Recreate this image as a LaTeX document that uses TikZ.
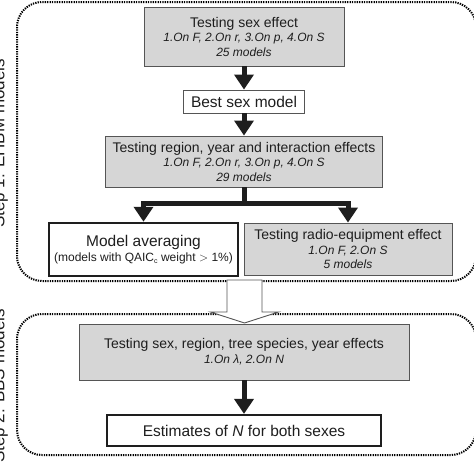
\documentclass[tikz,border=0pt]{standalone}
\usepackage{fontspec}
\setmainfont{Liberation Sans}
\usetikzlibrary{arrows.meta,calc}
\definecolor{boxgray}{HTML}{D6D6D6}
\definecolor{edgegray}{HTML}{555555}
\definecolor{ink}{HTML}{1E1E1E}
\newcommand\mybig{\fontsize{14}{14.5}\selectfont}
\newcommand\mylarge{\fontsize{15.5}{15}\selectfont}
\newcommand\myital{\fontsize{12}{14.5}\selectfont\itshape}
\begin{document}
\begin{tikzpicture}[x=1pt,y=-1pt,
  every node/.style={text=ink, inner sep=0pt},
  graybox/.style={draw=edgegray, line width=0.9pt, fill=boxgray, align=center, font=\fontsize{12}{14.5}\selectfont},
  plainbox/.style={draw=edgegray, line width=0.9pt, fill=white, align=center},
  boldbox/.style={draw=ink, line width=2.5pt, fill=white, align=center},
  bigarrow/.style={draw=ink, line width=5pt, -{Triangle[width=19pt,length=15pt]}},
  shaft/.style={draw=ink, line width=5pt},
  stage/.style={draw=black, line width=2pt, dash pattern=on 1.3pt off 1.1pt, rounded corners=25pt},
  steplabel/.style={rotate=90, anchor=base, font=\fontsize{17}{17}\selectfont},
  hollow/.style={draw=edgegray, line width=0.9pt, fill=white, line join=miter}
]
\useasboundingbox (0,0) rectangle (474,474);

% stage frames
\draw[stage] (17,2) rectangle (476,281);
\draw[stage] (17,314) rectangle (476,455);

% stage labels (cut by the page edge)
\node[steplabel] (lab1) at (4.5,143.5) {Step 1: EHBM models};
\node[steplabel] (lab2) at (4.5,386) {Step 2: BBS models};

% boxes
\node[graybox, minimum width=200pt, minimum height=59pt] (sexTest) at (244,36.5)
  {{\mybig Testing sex effect}\\{\myital 1.On F, 2.On r, 3.On p, 4.On S}\\{\myital 25 models}};
\node[plainbox, minimum width=121pt, minimum height=23pt, font=\mylarge] (best) at (244,101.5)
  {Best sex model};
\node[graybox, minimum width=277pt, minimum height=51pt] (regTest) at (244,161.5)
  {{\mybig Testing region, year and interaction effects}\\{\myital 1.On F, 2.On r, 3.On p, 4.On S}\\{\myital 29 models}};
\node[boldbox, minimum width=189pt, minimum height=53pt, font=\fontsize{12}{15}\selectfont] (avg) at (143.5,249.5)
  {{\mylarge Model averaging}\\{\fontsize{12}{15}\selectfont (models with QAIC\raisebox{-2.5pt}{\fontsize{7}{7}\selectfont c} weight $>$ 1\%)}};
\node[graybox, minimum width=208pt, minimum height=52pt] (radio) at (348,249)
  {{\mybig Testing radio-equipment effect}\\{\myital 1.On F, 2.On S}\\{\myital 5 models}};
\node[graybox, minimum width=330pt, minimum height=56pt, font=\fontsize{12}{15}\selectfont] (treeTest) at (244,352)
  {{\mybig Testing sex, region, tree species, year effects}\\{\myital 1.On λ, 2.On N}};
\node[boldbox, line width=2.2pt, minimum width=274pt, minimum height=31pt, font=\mylarge] (estim) at (244,430.5)
  {Estimates of \textit{N} for both sexes};

% connectors
\draw[bigarrow] (sexTest.south) -- (sexTest.south |- best.north);
\draw[bigarrow] (best.south) -- (best.south |- regTest.north);
\coordinate (fork) at ($(regTest.south)+(0,16)$);
\draw[shaft] (regTest.south) -- (fork);
\draw[bigarrow] (fork) -| (avg.north);
\draw[bigarrow] (fork) -| (radio.north);
\draw[bigarrow] (treeTest.south) -- (estim.north);

% hollow arrow between the two stages
\coordinate (htop) at (244.5,280);
\coordinate (hbase) at (244.5,312);
\coordinate (htip) at (244.5,323);
\draw[hollow] ($(htop)+(-17.5,0)$) -- ($(htop)+(17.5,0)$) -- ($(hbase)+(17.5,0)$)
  -- ($(hbase)+(34,0)$) -- (htip) -- ($(hbase)+(-34,0)$) -- ($(hbase)+(-17.5,0)$) -- cycle;
\end{tikzpicture}
\end{document}
